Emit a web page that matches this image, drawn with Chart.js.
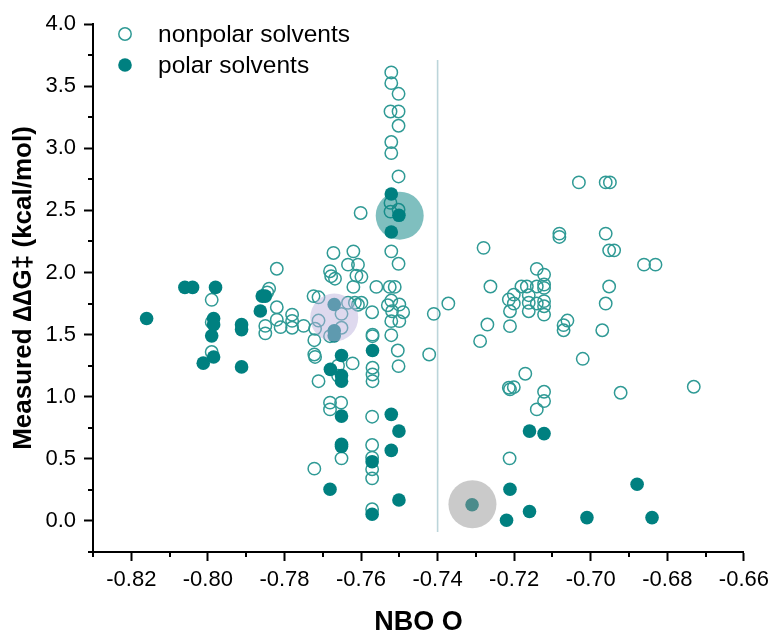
<!DOCTYPE html>
<html><head><meta charset="utf-8">
<script src="https://cdn.jsdelivr.net/npm/chart.js@4/dist/chart.umd.min.js"></script>
<style>html,body{margin:0;padding:0;background:#fff}#wrap{width:775px;height:630px}</style>
</head><body><div id="wrap"><canvas id="c" width="775" height="630"></canvas></div>
<script>
// ---- data ----
const NONPOLAR_X = [
 -0.799,-0.799,-0.799,-0.782,-0.784,-0.7845,-0.782,-0.782,-0.785,-0.781,-0.785,-0.778,-0.778,-0.778,-0.775,
 -0.7672,-0.762,-0.7521,-0.7634,-0.7608,-0.7502,-0.7681,-0.7678,-0.7668,-0.7612,-0.7599,-0.762,-0.756,-0.7525,-0.7512,
 -0.7724,-0.7711,-0.7634,-0.7616,-0.7599,-0.7608,-0.7521,-0.753,-0.75,-0.7372,-0.741,-0.7651,-0.7571,-0.7519,-0.749,
 -0.7521,-0.75,-0.7711,-0.772,-0.7651,-0.7681,-0.7722,-0.757,-0.757,-0.7521,-0.7504,-0.7722,-0.772,-0.7422,-0.7622,
 -0.757,-0.757,-0.757,-0.7502,-0.7711,-0.766,-0.766,-0.7681,-0.7652,-0.7681,-0.7571,-0.7571,-0.7651,-0.7722,-0.7571,
 -0.7571,-0.7571,-0.7571,
 -0.7521,-0.7521,-0.7502,-0.7523,-0.7502,-0.7502,-0.7521,-0.7521,-0.7502,-0.7523,-0.7523,-0.7601,-0.7502,
 -0.7289,-0.7021,-0.7171,-0.7214,-0.7201,-0.7211,-0.7122,-0.7122,-0.7141,-0.6922,-0.6731,-0.7212,
 -0.7031,-0.6961,-0.695,-0.7082,-0.7082,-0.6961,-0.6952,-0.6939,-0.728,-0.6861,-0.6831,-0.7141,-0.7122,
 -0.7262,-0.7181,-0.7167,-0.7141,-0.7122,-0.7122,-0.6952,-0.7201,-0.7214,-0.7201,-0.7162,-0.7162,-0.7162,
 -0.7141,-0.7122,-0.7122,-0.7211,-0.7122,-0.6961,-0.727,-0.7211,-0.7061,-0.7071,-0.7071,-0.697
];
const NONPOLAR_Y = [
 1.78,1.60,1.36,2.03,1.87,1.84,1.72,1.62,1.57,1.56,1.51,1.66,1.61,1.555,1.57,
 2.157,2.17,2.17,2.063,2.063,2.07,2.01,1.97,1.95,1.975,1.965,1.884,1.884,1.884,1.884,
 1.81,1.80,1.756,1.756,1.756,1.74,1.774,1.736,1.742,1.75,1.667,1.667,1.68,1.688,1.68,
 1.608,1.608,1.613,1.547,1.555,1.487,1.455,1.50,1.487,1.495,1.372,1.34,1.32,1.34,1.268,
 1.233,1.179,1.125,1.246,1.125,1.25,1.17,0.952,0.952,0.898,0.839,0.611,0.504,0.421,0.51,
 0.416,0.343,0.094,
 3.61,3.524,3.438,3.296,3.296,3.181,3.05,2.961,2.773,2.56,2.49,2.479,2.505,
 1.447,1.305,1.185,1.072,1.077,1.059,1.04,0.965,0.898,1.032,1.08,0.504,
 2.725,2.725,2.725,2.313,2.286,2.313,2.178,2.178,2.198,2.063,2.063,2.029,1.983,
 1.887,1.887,1.887,1.887,1.903,1.876,1.887,1.822,1.782,1.75,1.817,1.756,1.688,
 1.75,1.769,1.728,1.688,1.661,1.75,1.581,1.568,1.613,1.576,1.535,1.535
];
const POLAR_X = [
 -0.816,-0.806,-0.804,-0.798,-0.7985,-0.7985,-0.799,-0.7985,-0.8012,-0.7912,-0.7912,-0.7912,-0.7858,-0.785,-0.7863,
 -0.767,-0.767,-0.767,-0.7651,-0.768,-0.7651,-0.7651,-0.757,-0.7651,-0.7521,-0.7501,-0.7651,-0.7651,-0.7521,-0.7571,
 -0.7681,-0.7501,-0.7571,-0.731,-0.7211,-0.722,-0.716,-0.7122,-0.6879,-0.716,-0.701,-0.684,
 -0.7521,-0.7501,-0.7521
];
const POLAR_Y = [
 1.63,1.88,1.88,1.88,1.63,1.58,1.49,1.32,1.27,1.58,1.54,1.24,1.81,1.81,1.69,
 1.742,1.53,1.49,1.332,1.22,1.17,1.125,1.372,0.844,0.858,0.723,0.617,0.60,0.568,0.477,
 0.255,0.169,0.054,0.13,0.255,0.006,0.723,0.703,0.295,0.076,0.027,0.027,
 2.632,2.46,2.326
];
const HIGHLIGHT_X = [-0.7499, -0.767, -0.7309];
const HIGHLIGHT_Y = [2.457, 1.637, 0.134];
const HIGHLIGHT_COLORS = ['rgba(0,128,128,0.5)', 'rgba(190,180,222,0.5)', 'rgba(150,150,150,0.5)'];
const DIVIDER_X = [-0.74, -0.74];
const DIVIDER_Y = [-0.09, 3.71];
const X_TICKS = [-0.82,-0.80,-0.78,-0.76,-0.74,-0.72,-0.70,-0.68,-0.66];
const Y_TICKS = [0,0.5,1.0,1.5,2.0,2.5,3.0,3.5,4.0];
const X_MINOR = [-0.83,-0.81,-0.79,-0.77,-0.75,-0.73,-0.71,-0.69,-0.67];
const Y_MINOR = [-0.25,0.25,0.75,1.25,1.75,2.25,2.75,3.25,3.75];
const LEGEND_LABELS = ['nonpolar solvents', 'polar solvents'];

const TEAL = '#008080';
const TEAL_OPEN = '#2f9a95';
const FONT = "'Liberation Sans', Arial, sans-serif";

const pts = (xs, ys) => xs.map((x, i) => ({x, y: ys[i]}));

const minorTicks = {
  id: 'minorTicks',
  afterDraw(chart) {
    const {ctx, chartArea, scales} = chart;
    ctx.save();
    ctx.strokeStyle = '#000';
    ctx.lineWidth = 2;
    ctx.beginPath();
    X_MINOR.forEach(v => {
      const px = Math.round(scales.x.getPixelForValue(v));
      ctx.moveTo(px, chartArea.bottom);
      ctx.lineTo(px, chartArea.bottom + 5);
    });
    Y_MINOR.forEach(v => {
      const py = Math.round(scales.y.getPixelForValue(v));
      ctx.moveTo(chartArea.left, py);
      ctx.lineTo(chartArea.left - 5, py);
    });
    ctx.stroke();
    ctx.restore();
  }
};

const legendPlugin = {
  id: 'customLegend',
  afterDraw(chart) {
    const {ctx} = chart;
    ctx.save();
    const mx = 125, tx = 158, rows = [34, 65];
    ctx.beginPath();
    ctx.arc(mx, rows[0], 6.2, 0, Math.PI * 2);
    ctx.strokeStyle = TEAL_OPEN; ctx.lineWidth = 1.5; ctx.stroke();
    ctx.beginPath();
    ctx.arc(mx, rows[1], 6.8, 0, Math.PI * 2);
    ctx.fillStyle = TEAL; ctx.fill();
    ctx.fillStyle = '#000';
    ctx.font = '24.5px ' + FONT;
    ctx.textBaseline = 'middle';
    ctx.textAlign = 'left';
    ctx.fillText(LEGEND_LABELS[0], tx, rows[0] + 1);
    ctx.fillText(LEGEND_LABELS[1], tx, rows[1] + 1);
    ctx.restore();
  }
};

new Chart(document.getElementById('c'), {
  type: 'scatter',
  data: {
    datasets: [
      { label: 'highlight', data: pts(HIGHLIGHT_X, HIGHLIGHT_Y), order: 0,
        pointRadius: 24, pointHoverRadius: 24, backgroundColor: HIGHLIGHT_COLORS, borderWidth: 0 },
      { label: LEGEND_LABELS[1], data: pts(POLAR_X, POLAR_Y), order: 1,
        pointRadius: 6.8, pointHoverRadius: 6.8, backgroundColor: TEAL, borderWidth: 0 },
      { label: LEGEND_LABELS[0], data: pts(NONPOLAR_X, NONPOLAR_Y), order: 2,
        pointRadius: 6.2, pointHoverRadius: 6.2, backgroundColor: 'rgba(0,0,0,0)', borderColor: TEAL_OPEN, borderWidth: 1.5 },
      { label: 'divider', data: pts(DIVIDER_X, DIVIDER_Y), order: 3, showLine: true,
        pointRadius: 0, borderColor: '#bcd5da', borderWidth: 1.6 }
    ]
  },
  options: {
    responsive: false,
    animation: false,
    devicePixelRatio: 1,
    layout: { padding: { left: 0, right: 27, top: 24, bottom: 0 } },
    plugins: { legend: { display: false }, tooltip: { enabled: false } },
    scales: {
      x: {
        type: 'linear', min: -0.83, max: -0.66,
        afterBuildTicks: s => { s.ticks = X_TICKS.map(v => ({value: v})); },
        afterFit: s => { s.height = 78; },
        ticks: { font: { family: FONT, size: 22 }, color: '#000', padding: 6, maxRotation: 0,
                 callback: v => Number(v).toFixed(2) },
        grid: { drawOnChartArea: false, drawTicks: true, tickLength: 9, tickWidth: 2, tickColor: '#000' },
        border: { display: true, color: '#000', width: 2 },
        title: { display: true, text: 'NBO O', color: '#000',
                 font: { family: FONT, size: 27, weight: 'bold' }, padding: { top: 0, bottom: -9 } }
      },
      y: {
        type: 'linear', min: -0.25, max: 4.0,
        afterBuildTicks: s => { s.ticks = Y_TICKS.map(v => ({value: v})); },
        afterFit: s => { s.width = 93; },
        ticks: { font: { family: FONT, size: 22 }, color: '#000', padding: 8,
                 callback: v => Number(v).toFixed(1) },
        grid: { drawOnChartArea: false, drawTicks: true, tickLength: 9, tickWidth: 2, tickColor: '#000' },
        border: { display: true, color: '#000', width: 2 },
        title: { display: true, text: 'Measured \u2206\u2206G\u2021 (kcal/mol)', color: '#000',
                 font: { family: FONT, size: 26, weight: 'bold' }, padding: { top: 8, bottom: 0 } }
      }
    }
  },
  plugins: [minorTicks, legendPlugin]
});
</script>
</body></html>
